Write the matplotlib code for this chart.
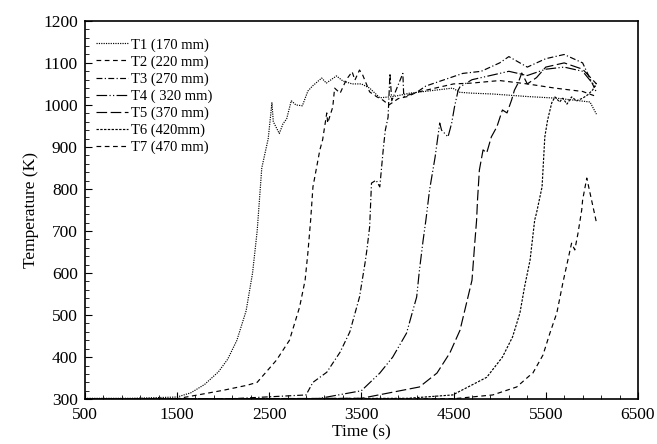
import matplotlib
matplotlib.use('Agg')
import matplotlib.pyplot as plt
from matplotlib.ticker import MultipleLocator

plt.rcParams['font.family'] = ['Liberation Serif', 'DejaVu Serif']

# Thermocouple readings, time (s) vs temperature (K)
t1_time = [500, 1000, 1500, 1650, 1800, 1950, 2050, 2150, 2250, 2320, 2370, 2390, 2420,
           2450, 2490, 2530, 2545, 2580, 2610, 2650, 2690, 2740, 2790, 2860, 2920, 2970,
           3070, 3120, 3230, 3300, 3400, 3500, 3590, 3700, 3850, 4025, 4300, 4490, 4570,
           4700, 4925, 5300, 5620, 5980, 6050]
t1_temp = [302, 302, 305, 315, 335, 365, 395, 440, 510, 600, 700, 760, 850,
           880, 920, 1005, 960, 945, 932, 955, 967, 1010, 1000, 998, 1033, 1045,
           1064, 1052, 1069, 1057, 1050, 1050, 1040, 1017, 1020, 1028, 1035, 1040, 1030,
           1028, 1026, 1020, 1016, 1007, 978]

t2_time = [500, 1500, 2000, 2260, 2370, 2580, 2720, 2830, 2890, 2920, 2950, 2975, 3050,
           3080, 3125, 3135, 3190, 3210, 3270, 3320, 3350, 3400, 3430, 3480, 3515, 3590,
           3670, 3730, 3800, 3900, 4000, 4100, 4300, 4500, 4700, 5000, 5300, 5600, 5900, 6050]
t2_temp = [300, 301, 321, 333, 340, 393, 440, 519, 583, 648, 726, 805, 893,
           917, 981, 957, 995, 1040, 1028, 1052, 1064, 1079, 1059, 1083, 1071, 1031,
           1019, 1012, 1000, 1015, 1020, 1030, 1040, 1050, 1052, 1058, 1050, 1040, 1032, 1020]

t3_time = [500, 2000, 2900, 2975, 3125, 3270, 3375, 3480, 3540, 3560, 3590, 3610, 3660,
           3700, 3740, 3760, 3790, 3810, 3830, 3950, 3960, 4100, 4200, 4400, 4600, 4800,
           5000, 5100, 5300, 5500, 5700, 5900, 6050]
t3_temp = [300, 300, 310, 340, 364, 412, 460, 543, 624, 655, 710, 814, 821,
           805, 900, 940, 971, 1075, 1010, 1075, 1020, 1030, 1045, 1060, 1075, 1080,
           1100, 1115, 1090, 1110, 1120, 1100, 1030]

t4_time = [500, 3000, 3500, 3700, 3840, 3990, 4060, 4100, 4130, 4170, 4200, 4240, 4300,
           4350, 4370, 4440, 4480, 4510, 4550, 4570, 4700, 4900, 5100, 5300, 5500, 5700,
           5900, 6050]
t4_temp = [300, 300, 320, 362, 400, 457, 512, 543, 607, 678, 726, 798, 876,
           957, 940, 924, 957, 995, 1035, 1043, 1060, 1070, 1080, 1070, 1085, 1090,
           1080, 1040]

t5_time = [500, 3500, 4130, 4320, 4460, 4570, 4640, 4700, 4730, 4750, 4760, 4780, 4820,
           4860, 4910, 4970, 5030, 5080, 5130, 5160, 5200, 5240, 5300, 5400, 5500, 5700,
           5900, 6050]
t5_temp = [300, 302, 329, 362, 410, 464, 528, 583, 671, 726, 774, 845, 893,
           886, 924, 948, 988, 981, 1012, 1035, 1052, 1076, 1050, 1065, 1090, 1100,
           1085, 1050]

t6_time = [500, 4000, 4490, 4860, 5030, 5140, 5220, 5270, 5330, 5380, 5400, 5460, 5490,
           5520, 5565, 5600, 5650, 5685, 5730, 5780, 5835, 5900, 5955, 6010, 6050]
t6_temp = [300, 302, 310, 352, 400, 448, 505, 567, 631, 726, 743, 805, 924,
           964, 1005, 1019, 1007, 1016, 1002, 1019, 1010, 1016, 1024, 1036, 1052]

t7_time = [500, 4500, 4925, 5185, 5330, 5360, 5470, 5545, 5620, 5685, 5740, 5780, 5815,
           5850, 5890, 5900, 5945, 6050]
t7_temp = [300, 301, 310, 329, 357, 362, 405, 457, 505, 576, 631, 671, 655,
           695, 750, 774, 826, 720]

labels = ['T1 (170 mm)', 'T2 (220 mm)', 'T3 (270 mm)', 'T4 ( 320 mm)',
          'T5 (370 mm)', 'T6 (420mm)', 'T7 (470 mm)']

fig = plt.figure(figsize=(6.57, 4.44), dpi=100)
ax = fig.add_axes([0.129, 0.101, 0.842, 0.852])

lw = 0.85
ax.plot(t1_time, t1_temp, color='black', lw=lw, linestyle=(0, (1, 1)), label=labels[0])
ax.plot(t2_time, t2_temp, color='black', lw=lw, linestyle=(0, (4, 3)), label=labels[1])
ax.plot(t3_time, t3_temp, color='black', lw=lw, linestyle=(0, (5, 2, 1, 2)), label=labels[2])
ax.plot(t4_time, t4_temp, color='black', lw=lw, linestyle=(0, (9, 2, 1, 2, 1, 2)), label=labels[3])
ax.plot(t5_time, t5_temp, color='black', lw=lw, linestyle=(0, (9, 3)), label=labels[4])
ax.plot(t6_time, t6_temp, color='black', lw=lw, linestyle=(0, (2, 1.2)), label=labels[5])
ax.plot(t7_time, t7_temp, color='black', lw=lw, linestyle=(0, (4, 3)), label=labels[6])

ax.set_xlim(500, 6500)
ax.set_ylim(300, 1200)
ax.xaxis.set_major_locator(MultipleLocator(1000, offset=500))
ax.xaxis.set_minor_locator(MultipleLocator(200, offset=100))
ax.yaxis.set_major_locator(MultipleLocator(100))
ax.yaxis.set_minor_locator(MultipleLocator(20))
ax.tick_params(which='both', direction='in', top=False, right=False, labelsize=12.5)
ax.tick_params(axis='x', pad=6)
ax.tick_params(axis='y', pad=5)
ax.tick_params(which='major', length=5, width=0.8)
ax.tick_params(which='minor', length=3, width=0.6)
for s in ax.spines.values():
    s.set_linewidth(1.2)

ax.set_xlabel('Time (s)', fontsize=12.5, labelpad=1)
ax.set_ylabel('Temperature (K)', fontsize=12.5, labelpad=3)

ax.legend(loc='upper left', bbox_to_anchor=(0.01, 0.97), frameon=False, fontsize=10.5,
          handlelength=2.2, handletextpad=0.2, labelspacing=0.25, borderaxespad=0)

fig.savefig('out.png', dpi=100)
